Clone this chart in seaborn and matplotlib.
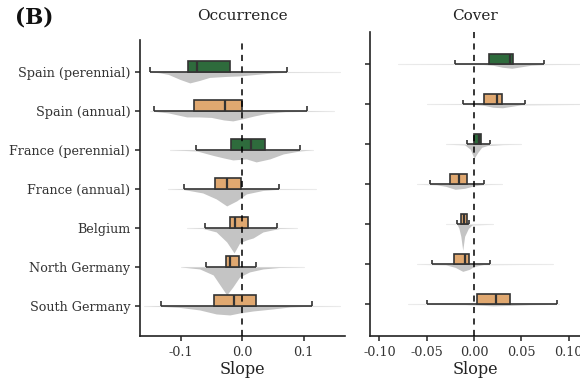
import numpy as np
import pandas as pd
import matplotlib
matplotlib.use("Agg")
import matplotlib.pyplot as plt
import seaborn as sns

sns.set_theme(style="ticks")
plt.rcParams["font.family"] = ["DejaVu Serif"]

regions = ["Spain (perennial)", "Spain (annual)", "France (perennial)",
           "France (annual)", "Belgium", "North Germany", "South Germany"]
life_form = ["perennial", "annual", "perennial", "annual", "annual", "annual", "annual"]

# occurrence slope summaries
occ_low = [-0.150, -0.143, -0.075, -0.094, -0.061, -0.058, -0.132]
occ_q1 = [-0.088, -0.079, -0.018, -0.044, -0.020, -0.026, -0.046]
occ_med = [-0.073, -0.027, 0.014, -0.024, -0.011, -0.020, -0.013]
occ_q3 = [-0.019, 0.000, 0.037, -0.001, 0.010, -0.005, 0.022]
occ_high = [0.073, 0.106, 0.095, 0.060, 0.056, 0.022, 0.113]

# cover slope summaries
cov_low = [-0.020, -0.012, -0.008, -0.047, -0.018, -0.044, -0.050]
cov_q1 = [0.016, 0.010, 0.000, -0.025, -0.014, -0.021, 0.003]
cov_med = [0.038, 0.024, 0.005, -0.016, -0.011, -0.010, 0.023]
cov_q3 = [0.041, 0.029, 0.007, -0.008, -0.008, -0.005, 0.038]
cov_high = [0.074, 0.054, 0.017, 0.010, -0.005, 0.017, 0.088]

# posterior densities
occ_dens_x = [
    [-0.150, -0.135, -0.120, -0.101, -0.085, -0.069, -0.053, -0.025, -0.004, 0.023, 0.050, 0.078, 0.160],
    [-0.150, -0.120, -0.090, -0.070, -0.050, -0.030, -0.015, 0.000, 0.020, 0.040, 0.070, 0.150],
    [-0.117, -0.074, -0.047, -0.030, -0.015, 0.007, 0.023, 0.045, 0.067, 0.094, 0.115],
    [-0.120, -0.096, -0.064, -0.042, -0.025, -0.009, 0.007, 0.034, 0.061, 0.120],
    [-0.090, -0.064, -0.042, -0.025, -0.013, -0.004, 0.007, 0.018, 0.034, 0.061, 0.090],
    [-0.100, -0.069, -0.047, -0.036, -0.025, -0.015, -0.004, 0.012, 0.034, 0.061, 0.100],
    [-0.160, -0.130, -0.101, -0.069, -0.042, -0.020, -0.004, 0.018, 0.050, 0.078, 0.110, 0.160],
]
occ_dens_h = [
    [0, 0.8, 2.5, 7.5, 11, 8.5, 5.5, 4.5, 4, 2.5, 1, 0.3, 0],
    [0, 2, 6, 6, 6.5, 9, 10, 8, 5, 2.5, 0.8, 0],
    [0, 1, 5.5, 8, 10, 9, 12, 9, 4, 1, 0],
    [0, 0.5, 4, 10, 17, 12, 5, 1.5, 0.3, 0],
    [0, 0.5, 4, 14, 25, 15, 12, 10, 4, 0.5, 0],
    [0, 2, 8, 18, 28, 20, 10, 5, 2, 0.5, 0],
    [0, 0.5, 1.5, 4, 8, 9, 7, 5, 3, 1, 0.3, 0],
]
cov_dens_x = [
    [-0.080, 0.010, 0.020, 0.030, 0.040, 0.050, 0.060, 0.075, 0.140],
    [-0.050, 0.000, 0.010, 0.020, 0.030, 0.040, 0.050, 0.150],
    [-0.030, -0.010, -0.004, 0.000, 0.004, 0.008, 0.015, 0.030, 0.050],
    [-0.060, -0.040, -0.030, -0.020, -0.010, 0.000, 0.010, 0.030],
    [-0.030, -0.018, -0.016, -0.014, -0.012, -0.010, -0.006, -0.002, 0.020],
    [-0.060, -0.030, -0.020, -0.012, -0.005, 0.000, 0.010, 0.083],
    [-0.070, -0.010, 0.010, 0.020, 0.040, 0.060, 0.090],
]
cov_dens_h = [
    [0, 0.3, 1, 3, 4, 2.5, 1, 0.3, 0],
    [0, 0.3, 1, 3, 3.5, 2, 0.5, 0],
    [0, 0.5, 5, 14, 8, 3, 1, 0.3, 0],
    [0, 0.5, 2, 5, 4, 1.5, 0.3, 0],
    [0, 0, 4, 12, 26, 12, 4, 0.5, 0],
    [0, 0.5, 3, 7, 5, 2, 0.3, 0],
    [0, 0.3, 1, 1.5, 1, 0.3, 0],
]

palette = {"perennial": "#2e6b3c", "annual": "#e0a870"}
edge = "#333333"


def draw_panel(ax, low, q1, med, q3, high, dens_x, dens_h, row_px):
    df = pd.DataFrame({"region": regions, "form": life_form, "low": low,
                       "q1": q1, "med": med, "q3": q3, "high": high})
    df["pos"] = np.arange(len(df))
    box_h = 10.5 / row_px
    cap_h = 4.5 / row_px
    for i, r in df.iterrows():
        p = r["pos"]
        xs = np.array(dens_x[i])
        hs = np.array(dens_h[i]) / row_px
        ax.plot([xs.min(), xs.max()], [p, p], color="#ececec", lw=0.8, zorder=1)
        ax.fill_between(xs, p, p + hs, color="#c4c4c4", lw=0, zorder=2)
        ax.hlines(p, r["low"], r["high"], color=edge, lw=1.2, zorder=3)
        ax.vlines([r["low"], r["high"]], p - cap_h, p, color=edge, lw=1.2, zorder=3)
        ax.barh(p - box_h / 2, r["q3"] - r["q1"], left=r["q1"], height=box_h,
                color=palette[r["form"]], edgecolor=edge, lw=1.2, zorder=4)
        ax.vlines(r["med"], p - box_h, p, color=edge, lw=1.6, zorder=5)
    ax.axvline(0, color="black", ls=(0, (4, 3.5)), lw=1.1, zorder=6)
    ax.set_yticks(df["pos"])
    sns.despine(ax=ax)
    for s in ["left", "bottom"]:
        ax.spines[s].set_color("#222222")
        ax.spines[s].set_linewidth(1.2)
    ax.tick_params(axis="both", colors="#222222", labelcolor="#333333",
                   labelsize=9.2, width=1.1, length=3.5)
    ax.set_xlabel("Slope", fontsize=11.5, color="#222222", labelpad=2)
    ax.set_ylabel("")


fig = plt.figure(figsize=(5.8, 3.85), dpi=100)
ax1 = fig.add_axes([0.2414, 0.1273, 0.353, 0.769])
ax2 = fig.add_axes([0.638, 0.1273, 0.362, 0.790])

draw_panel(ax1, occ_low, occ_q1, occ_med, occ_q3, occ_high, occ_dens_x, occ_dens_h, 39.0)
ax1.set_xlim(-0.166, 0.167)
ax1.set_ylim(6.77, -0.82)
ax1.set_xticks([-0.1, 0.0, 0.1])
ax1.set_xticklabels(["-0.1", "0.0", "0.1"])
ax1.set_yticklabels(regions)
ax1.set_title("Occurrence", fontsize=11, color="#222222", pad=14.5)

draw_panel(ax2, cov_low, cov_q1, cov_med, cov_q3, cov_high, cov_dens_x, cov_dens_h, 40.0)
ax2.set_xlim(-0.110, 0.112)
ax2.set_ylim(6.79, -0.81)
ax2.set_xticks([-0.10, -0.05, 0.0, 0.05, 0.10])
ax2.set_xticklabels(["-0.10", "-0.05", "0.00", "0.05", "0.10"])
ax2.set_yticklabels([])
ax2.set_title("Cover", fontsize=11, color="#222222", pad=8.5)

fig.text(0.026, 0.955, "(B)", fontsize=15.5, fontweight="bold", color="#111111",
         va="center", ha="left")

fig.savefig("out.png", dpi=100)
